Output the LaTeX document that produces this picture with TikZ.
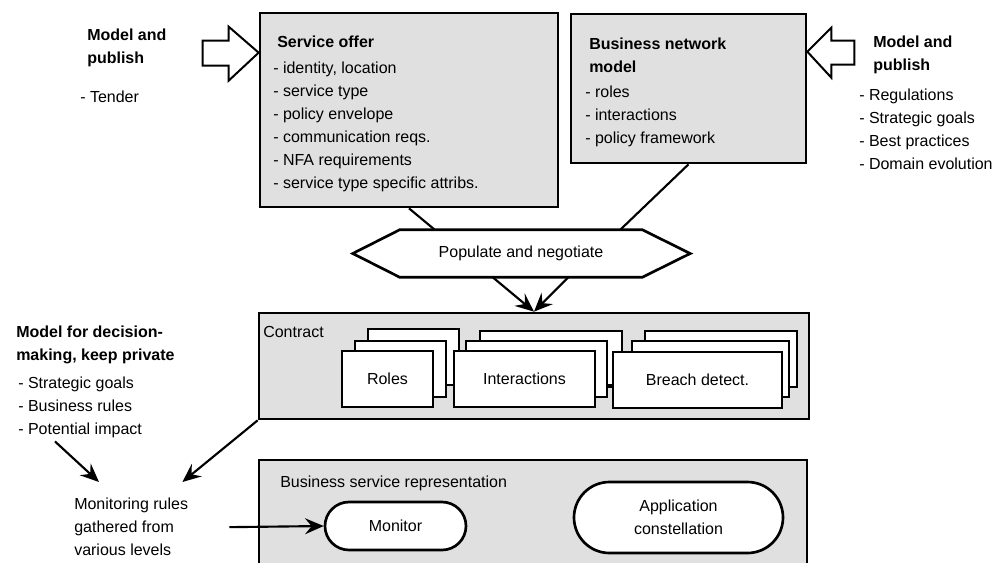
\documentclass[tikz,border=0pt]{standalone}
\usepackage{fontspec}
\setmainfont{Liberation Sans}
\usetikzlibrary{arrows.meta,shapes.misc}
\newlength\px
\setlength\px{0.75pt}
\definecolor{panelgray}{RGB}{224,224,224}

\begin{document}
\fontsize{12}{17.25}\selectfont
\begin{tikzpicture}[x=0.75pt,y=-0.75pt,
  panel/.style={draw,fill=panelgray,line width=2pt,inner sep=0pt},
  card/.style={draw,fill=white,line width=2pt,minimum height=56\px,inner sep=0pt},
  pill/.style={rounded rectangle,draw,fill=white,line width=2pt,align=center,inner sep=0pt},
  note/.style={anchor=north west,inner sep=0pt,align=left},
  title/.style={note,font=\bfseries},
  hollow arrow/.style={draw,fill=white,line width=1.5pt,line join=miter},
  link/.style={line width=1.6pt},
  feed/.style={line width=1.6pt,-{Stealth[length=14pt,width=12pt,inset=5pt]}}]
  \useasboundingbox (0,0) rectangle (1007,562);
  \clip (0,0) rectangle (1007,562);

  % panels
  \node[panel,minimum width=298\px,minimum height=194\px] (offer) at (409,110) {};
  \node[panel,minimum width=235\px,minimum height=149\px] (bnm) at (688.5,88.5) {};
  \node[panel,minimum width=550\px,minimum height=106\px] (contract) at (534,366) {};
  \node[panel,minimum width=548\px,minimum height=160\px] (bsr) at (533,540) {};

  % contract parts
  \node[card,minimum width=91\px] (rolesC) at (413.5,357) {};
  \node[card,minimum width=91\px] (rolesB) at (400.5,369) {};
  \node[card,minimum width=91\px] (rolesA) at (387.5,379) {Roles};
  \node[card,minimum width=142\px] (interC) at (551,359) {};
  \node[card,minimum width=141\px] (interB) at (536.5,369) {};
  \node[card,minimum width=141\px] (interA) at (524.5,379) {Interactions};
  \node[card,minimum width=152\px] (breachC) at (721,359) {};
  \node[card,minimum width=157\px] (breachB) at (710.5,369) {};
  \node[card,minimum width=169\px] (breachA) at (697.5,380) {Breach detect.};
  \coordinate (tieY) at (0,385);
  \draw[line width=2pt] (rolesB.east |- tieY) -- (interA.west |- tieY);
  \draw[line width=2pt] (interB.east |- tieY) -- (breachA.west |- tieY);

  % texts
  \node[title] (leftTitle) at (87,29) {Model and\\publish};
  \node[note] (leftList) at (80,91) {- Tender};
  \node[title] (offerTitle) at (277,36) {Service offer};
  \node[note] (offerList) at (273,62) {- identity, location\\- service type\\- policy envelope\\- communication reqs.\\- NFA requirements\\- service type specific attribs.};
  \node[title] (bnmTitle) at (589,38) {Business network\\model};
  \node[note] (bnmList) at (585,86) {- roles\\- interactions\\- policy framework};
  \node[title] (rightTitle) at (873,36) {Model and\\publish};
  \node[note] (rightList) at (859,89) {- Regulations\\- Strategic goals\\- Best practices\\- Domain evolution};
  \node[note] (contractLabel) at (263,326) {Contract};
  \node[note] (bsrLabel) at (280,476) {Business service representation};
  \node[title] (decTitle) at (16,326) {Model for decision-\\making, keep private};
  \node[note] (decList) at (18,377) {- Strategic goals\\- Business rules\\- Potential impact};
  \node[note] (monrules) at (74,498) {Monitoring rules\\gathered from\\various levels};

  % populate and negotiate
  \node[minimum width=242\px,minimum height=47\px,inner sep=0pt] (popneg) at (521,253.5) {Populate and negotiate};
  \draw[line width=2pt] (popneg.north west) -- (popneg.north east) -- ([xshift=48\px]popneg.east)
    -- (popneg.south east) -- (popneg.south west) -- ([xshift=-47\px]popneg.west) -- cycle;

  % representation parts
  \node[pill,minimum width=141\px,minimum height=48\px] (monitor) at (395.5,526) {Monitor};
  \node[pill,minimum width=209\px,minimum height=71\px] (app) at (678.5,517.5) {Application\\constellation};

  % fat arrows
  \coordinate (tipL) at ([yshift=-41\px]offer.north west);
  \draw[hollow arrow] (tipL) -- ++(-30,-26) -- ++(0,14) -- ++(-26,0) -- ++(0,25) -- ++(26,0) -- ++(0,15) -- cycle;
  \coordinate (tipR) at ([yshift=-39\px]bnm.north east);
  \draw[hollow arrow] (tipR) -- ++(24,-24) -- ++(0,13) -- ++(23,0) -- ++(0,24) -- ++(-23,0) -- ++(0,13) -- cycle;

  % connectors
  \draw[link] (offer.south) -- ([xshift=35\px]popneg.north west);
  \draw[link] (bnm.south) -- ([xshift=-22\px]popneg.north east);
  \draw[feed] ([xshift=93\px]popneg.south west) -- (contract.north);
  \draw[feed] ([xshift=-74\px]popneg.south east) -- (contract.north);
  \draw[feed] (contract.south west) -- ([xshift=-6\px,yshift=16\px]monrules.north east);
  \draw[feed] ([xshift=37\px,yshift=-3\px]decList.south west) -- ([xshift=25\px,yshift=16\px]monrules.north west);
  \draw[feed] ([xshift=41\px]monrules.east) -- (monitor.west);
\end{tikzpicture}
\end{document}
